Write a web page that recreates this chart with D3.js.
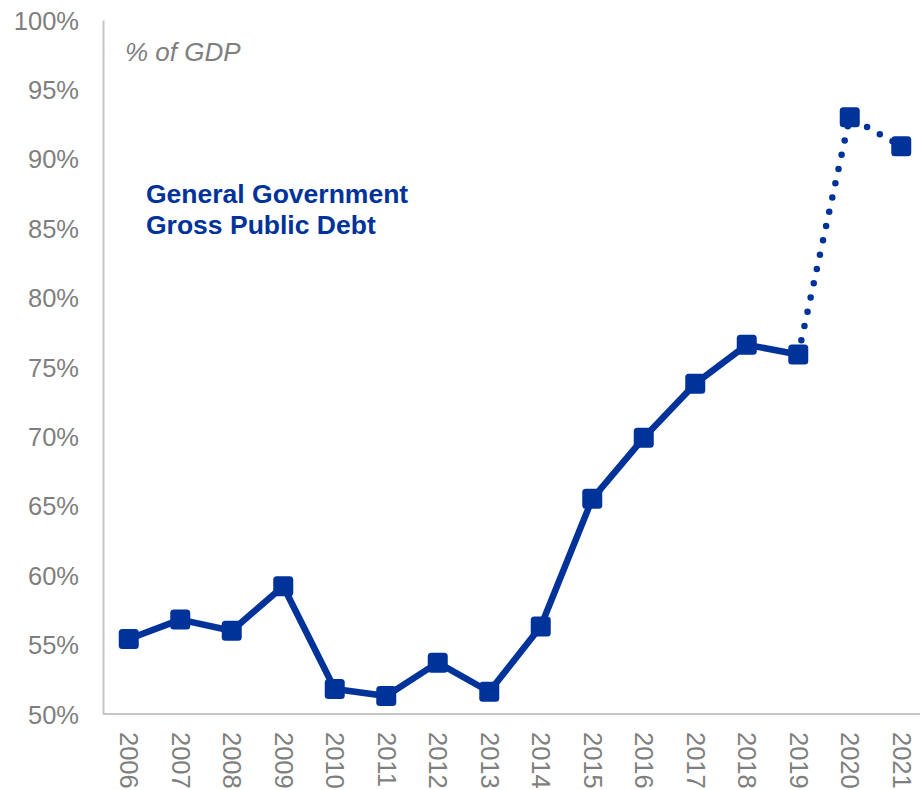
<!DOCTYPE html>
<html>
<head>
<meta charset="utf-8">
<script src="https://cdn.jsdelivr.net/npm/d3@7"></script>
<style>
  html, body { margin: 0; padding: 0; background: #fff; }
  svg { display: block; }
</style>
</head>
<body>
<script>
// Gross public debt, % of GDP
const years = ["2006","2007","2008","2009","2010","2011","2012","2013","2014","2015","2016","2017","2018","2019","2020","2021"];
const debt = [55.4, 56.8, 56.0, 59.2, 51.8, 51.3, 53.7, 51.6, 56.3, 65.5, 69.9, 73.8, 76.6, 75.9, 93.0, 90.9];
const yTicks = [50, 55, 60, 65, 70, 75, 80, 85, 90, 95, 100];
const actualThrough = "2019"; // later years are projections (dotted)

const W = 920, H = 790;
const blue = "#003399", grey = "#7f7f7f", axisGrey = "#c6c6c6";
const font = "Liberation Sans, Arial, sans-serif";

const svg = d3.select("body").append("svg").attr("width", W).attr("height", H);

const x = d3.scalePoint().domain(years).range([103, 927]).padding(0.5);
const y = d3.scaleLinear().domain([50, 100]).range([714, 20]);

// y axis
const yAxis = svg.append("g").attr("transform", "translate(103,0)")
  .call(d3.axisLeft(y).tickValues(yTicks).tickSize(0).tickPadding(24).tickFormat(d => d + "%"));
yAxis.select(".domain").attr("stroke", axisGrey).attr("stroke-width", 2);
yAxis.selectAll("text").attr("fill", grey).attr("font-family", font).attr("font-size", 25.5)
  .attr("dy", "0.36em");

// x axis
const xAxis = svg.append("g").attr("transform", "translate(0,714)")
  .call(d3.axisBottom(x).tickSize(0).tickPadding(0));
xAxis.select(".domain").attr("stroke", axisGrey).attr("stroke-width", 2)
  .attr("d", "M103,0H920");
xAxis.selectAll("text")
  .attr("fill", grey).attr("font-family", font).attr("font-size", 25.5)
  .attr("text-anchor", "start")
  .attr("transform", "translate(0,18) rotate(90)")
  .attr("x", 0).attr("y", 0).attr("dy", "0.36em");

const data = years.map((yr, i) => ({ yr, v: debt[i] }));
const cut = years.indexOf(actualThrough);
const line = d3.line().x(d => x(d.yr)).y(d => y(d.v));

// actual values
svg.append("path").datum(data.slice(0, cut + 1))
  .attr("d", line).attr("fill", "none").attr("stroke", blue)
  .attr("stroke-width", 6.5).attr("stroke-linejoin", "round");

// projection
svg.append("path").datum(data.slice(cut))
  .attr("d", line).attr("fill", "none").attr("stroke", blue)
  .attr("stroke-width", 6.5).attr("stroke-linecap", "round")
  .attr("stroke-dasharray", "0 14.6");

// markers
const m = 20;
svg.append("g").selectAll("rect").data(data).join("rect")
  .attr("x", d => x(d.yr) - m / 2).attr("y", d => y(d.v) - m / 2)
  .attr("width", m).attr("height", m).attr("rx", 3.5)
  .attr("fill", blue);

// labels
svg.append("text").attr("x", 125).attr("y", 61)
  .attr("font-family", font).attr("font-size", 26).attr("font-style", "italic")
  .attr("fill", grey).text("% of GDP");

const title = svg.append("text").attr("font-family", font).attr("font-size", 26.5)
  .attr("font-weight", "bold").attr("fill", blue);
title.append("tspan").attr("x", 146).attr("y", 203).text("General Government");
title.append("tspan").attr("x", 146).attr("y", 234).text("Gross Public Debt");
</script>
</body>
</html>
